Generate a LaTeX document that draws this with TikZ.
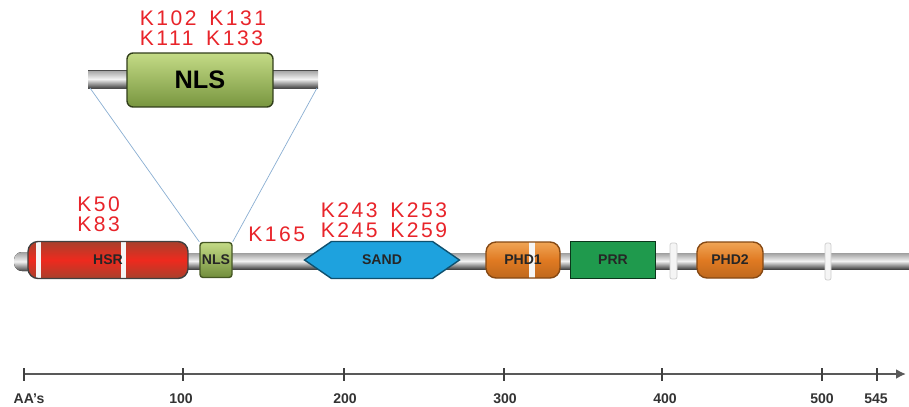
\documentclass[tikz,border=0pt]{standalone}
\usepackage{fontspec}
\setsansfont{Liberation Sans}
\newfontfamily\sitefont[LetterSpace=12]{Liberation Sans}
\usepackage{tikz}
\usetikzlibrary{arrows.meta,positioning,calc,shapes.symbols}
\definecolor{sitered}{HTML}{E8242A}
\definecolor{hsrdark}{HTML}{A8402C}
\definecolor{hsrred}{HTML}{EE2A1E}
\definecolor{nlsgreen}{HTML}{8DB04A}
\definecolor{nlslight}{HTML}{C4DB86}
\definecolor{sandblue}{HTML}{1EA2DE}
\definecolor{phdorange}{HTML}{E07A22}
\definecolor{phdlight}{HTML}{F0A556}
\definecolor{prrgreen}{HTML}{1F9A4D}
\definecolor{guide}{HTML}{8AAED2}
\tikzset{
    backbone/.style={top color=gray!75,bottom color=gray!55!black,middle color=gray!10,draw=none},
    dombox/.style={draw=black!75,thick,inner sep=0pt,font=\sffamily\bfseries\footnotesize,text=black!85,minimum height=0.74cm},
    phdbox/.style={dombox,rounded corners=0.2cm,minimum height=0.72cm,top color=phdlight,bottom color=phdorange!85!black,middle color=phdorange,draw=phdorange!60!black},
    stripe/.style={fill=gray!8,draw=gray!40},
    site/.style={text=sitered,font=\sitefont\fontsize{12}{11.6}\selectfont,align=left,inner sep=0pt},
    ticklabel/.style={font=\sffamily\bfseries\footnotesize,text=black!80},
    axisline/.style={draw=black!65,line width=1.6pt}
}
\newcommand\bandat[2]{\fill[gray!8,sharp corners] ([xshift=#1]path picture bounding box.south west) rectangle ([xshift=#2]path picture bounding box.north west);}
\begin{document}
\begin{tikzpicture}[x=0.02cm,y=-0.02cm]
    \useasboundingbox (0,0) rectangle (909,406);
    % protein backbone
    \fill[backbone,rounded corners=0.16cm] (14,252) rectangle (40,271);
    \fill[backbone] (30,253) rectangle (909,269);
    % domains
    \node[dombox,rounded corners=0.2cm,minimum width=3.2cm,top color=hsrdark,bottom color=hsrdark,middle color=hsrred,
        path picture={\bandat{0.16cm}{0.26cm}\bandat{1.86cm}{1.96cm}}] (hsr) at (108,260) {HSR};
    \node[dombox,rounded corners=0.06cm,minimum width=0.64cm,minimum height=0.7cm,top color=nlslight,bottom color=nlsgreen!80!black,draw=nlsgreen!50!black] (nls) at (216,260) {NLS};
    \node[dombox,shape=signal,signal to=west and east,signal pointer angle=69,minimum width=3.1cm,fill=sandblue,draw=sandblue!50!black] (sand) at (382,260) {SAND};
    \node[phdbox,minimum width=1.48cm,path picture={\bandat{0.86cm}{0.98cm}}] (phd1) at (523,260) {PHD1};
    \node[dombox,minimum width=1.7cm,fill=prrgreen,draw=prrgreen!35!black] (prr) at (613,260) {PRR};
    \node[phdbox,minimum width=1.32cm] (phd2) at (730,260) {PHD2};
    \draw[stripe,rounded corners=0.04cm] (670,243) rectangle (677,279);
    \draw[stripe,rounded corners=0.04cm] (825,243) rectangle (831,280);
    % enlarged NLS
    \fill[backbone] (88,70) rectangle (318,88);
    \draw[black!70] (88,70) -- (318,70);
    \draw[black!70] (88,88) -- (318,88);
    \coordinate (zl) at (90,88);
    \coordinate (zr) at (317,88);
    \node[dombox,rounded corners=0.12cm,minimum width=2.92cm,minimum height=1.08cm,font=\sffamily\bfseries\Large,text=black,top color=nlslight,bottom color=nlsgreen!85!black,draw=nlsgreen!35!black] (bignls) at (200,80) {NLS};
    \draw[guide] (zl) -- (nls.north west);
    \draw[guide] (zr) -- (nls.north east);
    % acetylation sites
    \node[site] (s1) at (203,28) {K102\hspace{0.6em}K131\\K111\hspace{0.6em}K133};
    \node[site,anchor=west] (s2) at (77,214) {K50\\K83};
    \node[site,anchor=west] (s3) at (248,234) {K165};
    \node[site] (s4) at (384,220) {K243\hspace{0.6em}K253\\K245\hspace{0.6em}K259};
    % residue axis
    \coordinate (a0) at (24,374);
    \coordinate (a1) at (906,374);
    \draw[axisline,-{Latex[length=2mm,width=2mm]}] (a0) -- (a1);
    \foreach \x/\t/\lx in {24/AA's/29,183/100/181,344/200/345,504/300/505,662/400/665,822/500/822,877/545/876}{
        \draw[black!75,thick] (\x,368) -- (\x,381);
        \node[ticklabel] at (\lx,399) {\t};
    }
\end{tikzpicture}
\end{document}
